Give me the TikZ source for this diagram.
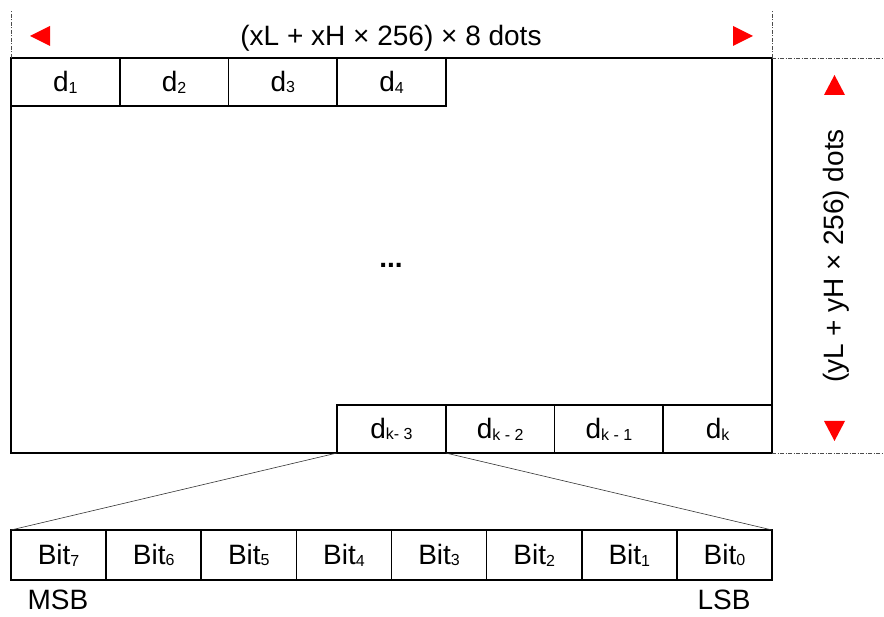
\documentclass[tikz,border=0pt]{standalone}
\usepackage{fontspec}
\setmainfont{Liberation Sans}
\newcommand{\sbs}[1]{{\fontsize{16}{16}\selectfont\raisebox{-1.8pt}{#1}}}
\begin{document}
\begin{tikzpicture}[x=1pt,y=-1pt,
  txt/.style={font=\fontsize{28}{28}\selectfont},
  cell/.style={txt,draw,line width=1.6pt,minimum width=108.75pt,minimum height=48pt,inner sep=0pt,outer sep=0pt,anchor=north west},
  bitcell/.style={txt,draw,line width=1.6pt,minimum width=95.125pt,minimum height=50pt,inner sep=0pt,outer sep=0pt,anchor=north west},
  guide/.style={draw=black!70,line width=0.8pt,dash pattern=on 4pt off 1.5pt on 1pt off 1.5pt},
  tri/.style={fill=red,draw=none},
  lbl/.style={txt,inner sep=0pt},
  thin/.style={draw=black!80,line width=0.6pt}]
\useasboundingbox (0,0) rectangle (884,617);
% main frame
\node[draw,line width=1.6pt,minimum width=761pt,minimum height=395pt,inner sep=0pt,outer sep=0pt,anchor=north west] (frame) at (11,58) {};
% top cells
\node[cell] (d1) at (11,58) {d\sbs{1}};
\node[cell] (d2) at (119.75,58) {d\sbs{2}};
\node[cell] (d3) at (228.5,58) {d\sbs{3}};
\node[cell] (d4) at (337.25,58) {d\sbs{4}};
% bottom cells
\node[cell,anchor=south west] (dk3) at (337,453) {d\sbs{k- 3}};
\node[cell,anchor=south west] (dk2) at (445.75,453) {d\sbs{k - 2}};
\node[cell,anchor=south west] (dk1) at (554.5,453) {d\sbs{k - 1}};
\node[cell,anchor=south west] (dk) at (663.25,453) {d\sbs{k}};
% ellipsis
\node[inner sep=0pt,font=\fontsize{28}{28}\selectfont\bfseries] (dots) at (391,265) {...};
% bit cells
\node[bitcell] (b7) at (11,530) {Bit\sbs{7}};
\node[bitcell] (b6) at (106.125,530) {Bit\sbs{6}};
\node[bitcell] (b5) at (201.25,530) {Bit\sbs{5}};
\node[bitcell] (b4) at (296.375,530) {Bit\sbs{4}};
\node[bitcell] (b3) at (391.5,530) {Bit\sbs{3}};
\node[bitcell] (b2) at (486.625,530) {Bit\sbs{2}};
\node[bitcell] (b1) at (581.75,530) {Bit\sbs{1}};
\node[bitcell] (b0) at (676.875,530) {Bit\sbs{0}};
% connectors
\draw[thin] (dk3.south west) -- (b7.north west);
\draw[thin] (dk3.south east) -- (b0.north east);
% MSB LSB
\node[lbl] (msb) at (58,600) {MSB};
\node[lbl] (lsb) at (724,600) {LSB};
% guides
\coordinate (g1) at (11,10);
\coordinate (g2) at (772,10);
\coordinate (g3) at (884,58);
\coordinate (g4) at (884,453);
\draw[guide] (frame.north west) -- (g1);
\draw[guide] (frame.north east) -- (g2);
\draw[guide] (frame.north east) -- (g3);
\draw[guide] (frame.south east) -- (g4);
% dimension labels
\node[lbl] (wlbl) at (391,38) {(xL + xH × 256) × 8 dots};
\node[lbl,rotate=90] (hlbl) at (836,256) {(yL + yH × 256) dots};
% red triangles
\fill[tri] (30,36) -- (50,26) -- (50,46) -- cycle;
\fill[tri] (753,36) -- (733,26) -- (733,46) -- cycle;
\fill[tri] (834.5,75) -- (824,95) -- (845,95) -- cycle;
\fill[tri] (834.5,441) -- (824,421) -- (845,421) -- cycle;
\end{tikzpicture}
\end{document}
